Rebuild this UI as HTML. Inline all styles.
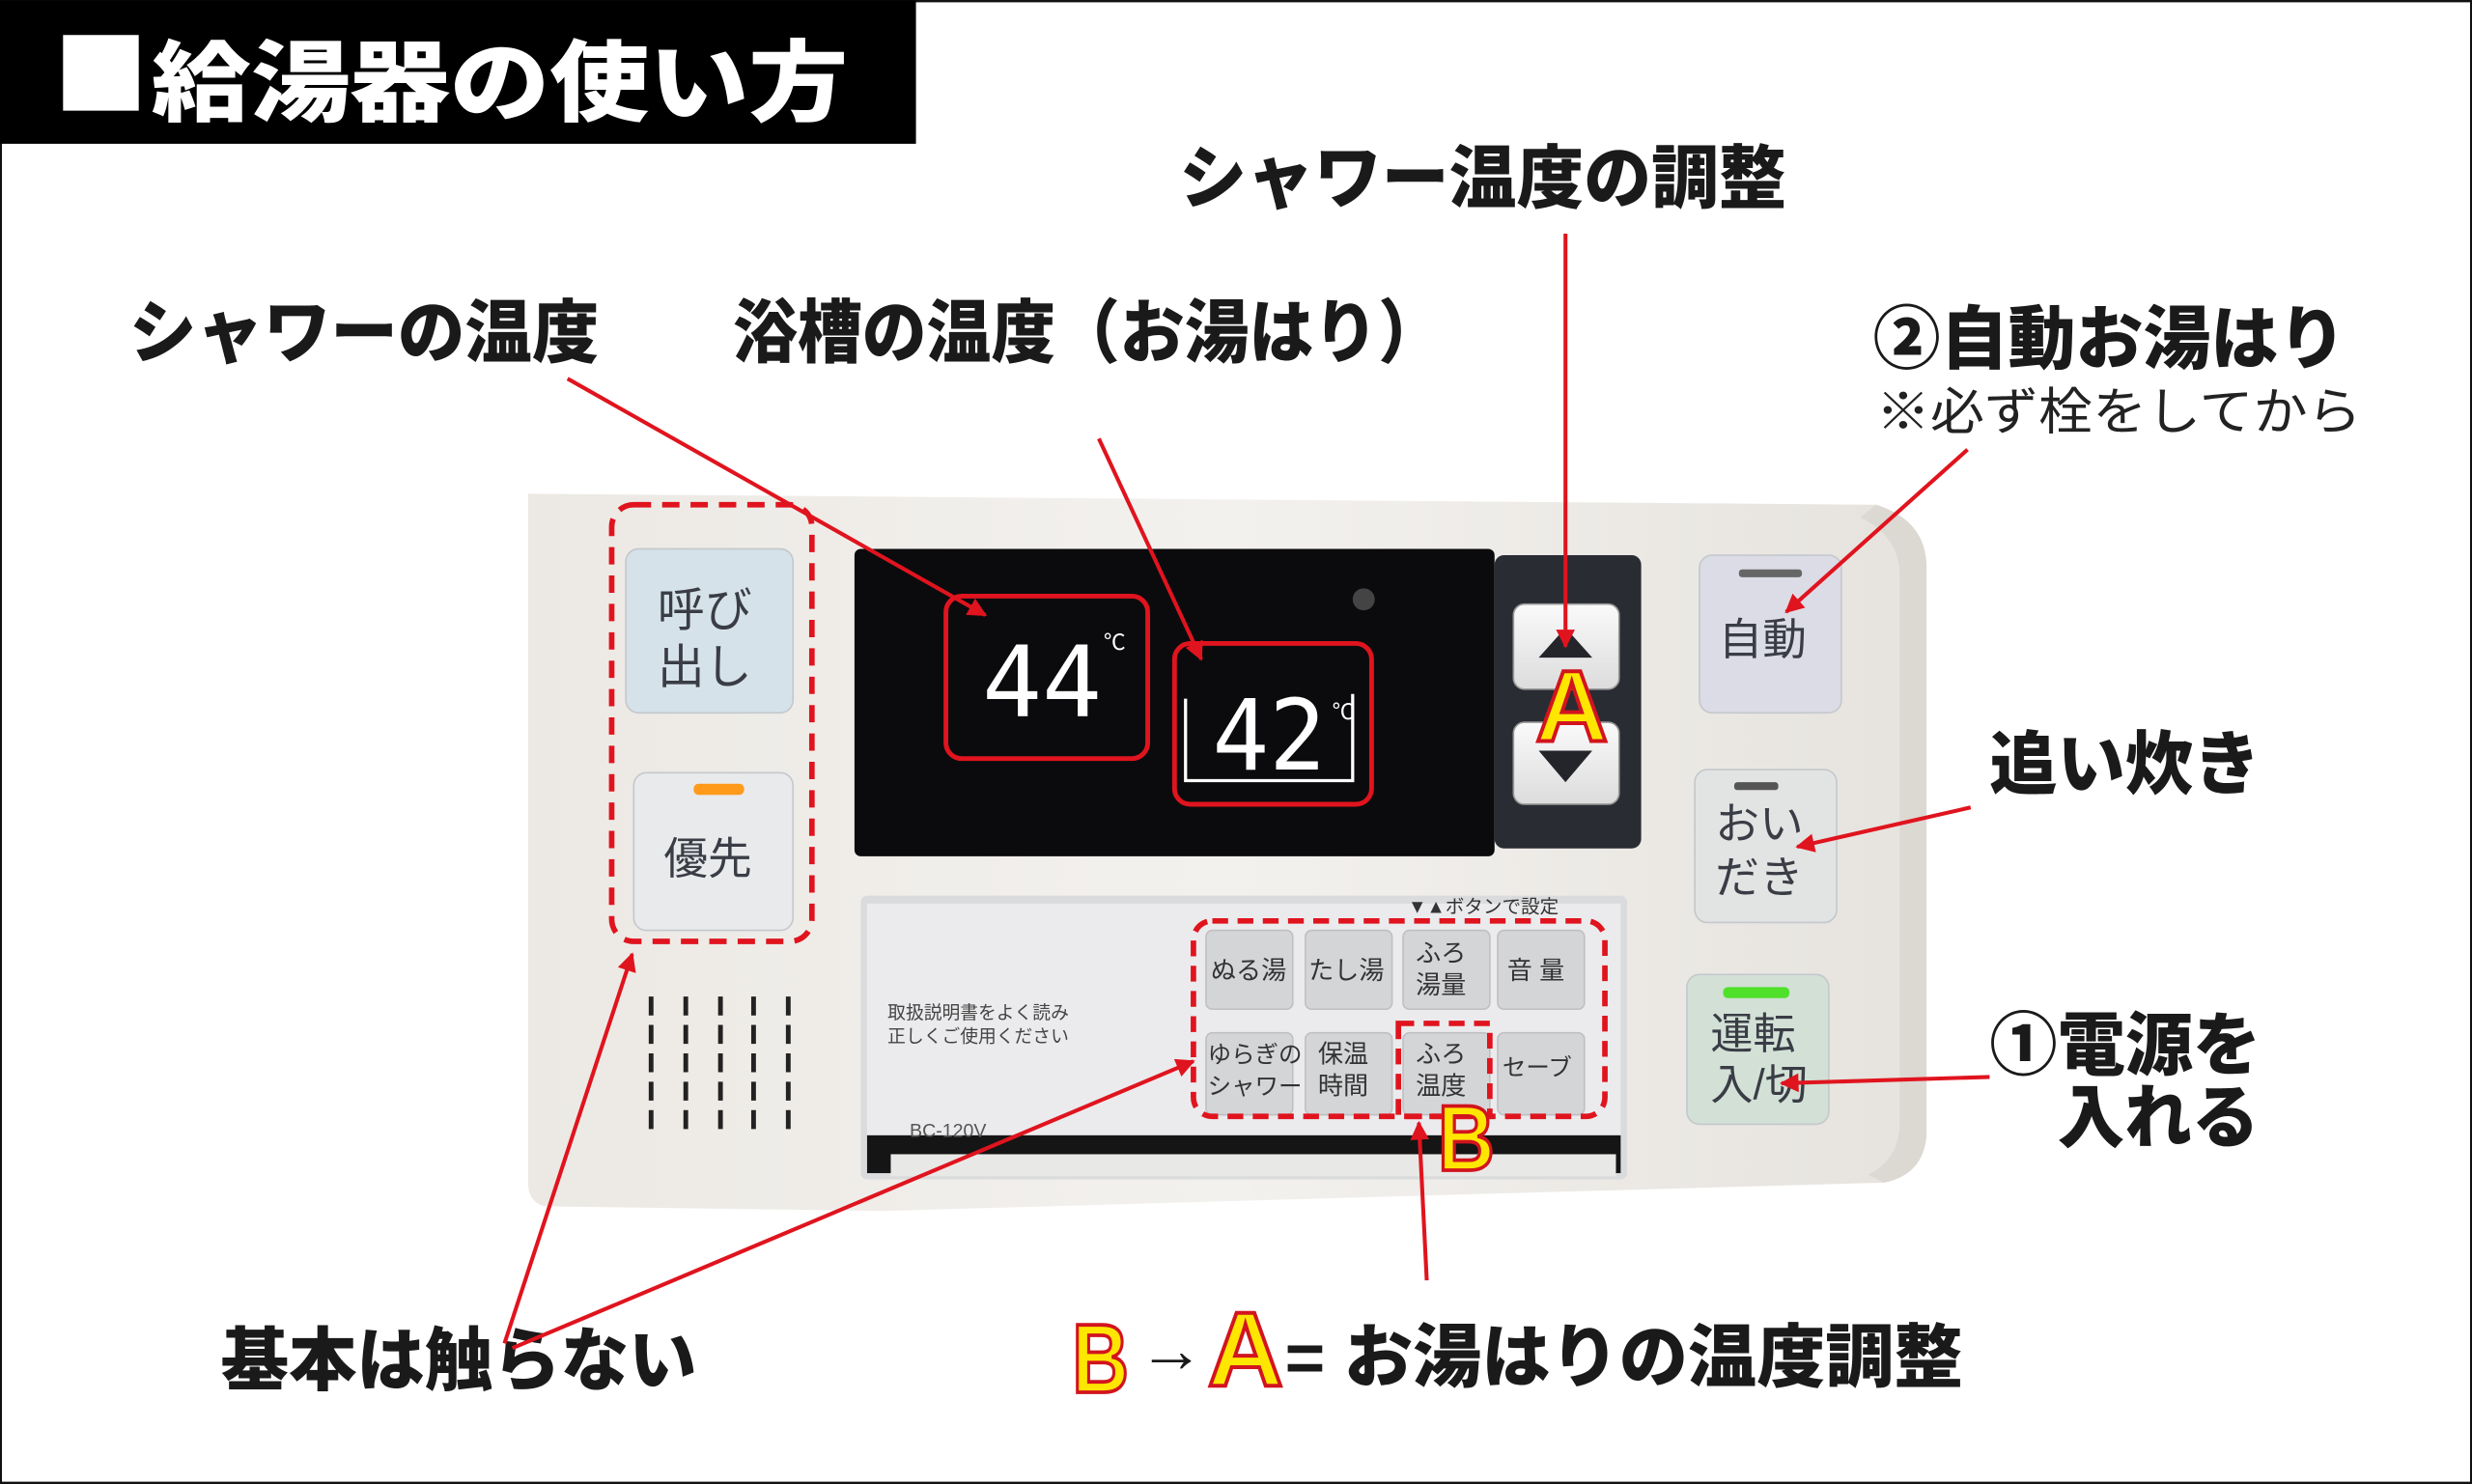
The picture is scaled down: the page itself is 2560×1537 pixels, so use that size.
<!DOCTYPE html>
<html><head><meta charset="utf-8"><style>
html,body{margin:0;padding:0;background:#fff}
svg{display:block}
text{font-family:"Liberation Sans","Noto Sans CJK JP",sans-serif}
.b{font-weight:900;fill:#1a1a1a}
.k{font-weight:400;fill:#3a3d45}
.ab{font-family:"Liberation Sans",sans-serif;font-weight:700;fill:#ffe600;stroke:#d2141e;stroke-width:1.5}
</style></head><body>
<svg width="2560" height="1537" viewBox="0 0 1568 941" xmlns="http://www.w3.org/2000/svg">
<defs>
<marker id="ah" viewBox="0 0 10 10" refX="9" refY="5" markerWidth="14" markerHeight="12" orient="auto-start-reverse" markerUnits="userSpaceOnUse">
<path d="M0,0 L10,5 L0,10 z" fill="#e0141e"/></marker>
<linearGradient id="body" x1="0" y1="0" x2="1" y2="0"><stop offset="0" stop-color="#ece9e4"/><stop offset=".5" stop-color="#f3f1ee"/><stop offset="1" stop-color="#e6e3de"/></linearGradient>
<linearGradient id="btn" x1="0" y1="0" x2="0" y2="1"><stop offset="0" stop-color="#fafafa"/><stop offset="1" stop-color="#dcdcdc"/></linearGradient>
</defs>
<rect x="0.5" y="0.5" width="1567" height="940" fill="#fff" stroke="#111" stroke-width="1.5"/>
<rect x="0" y="0" width="581" height="91" fill="#000"/>
<rect x="40" y="22" width="48" height="48" fill="#fff"/>
<text x="96" y="72" font-size="56" fill="#fff" font-weight="900" textLength="442" lengthAdjust="spacingAndGlyphs">給湯器の使い方</text>

<path d="M335,313 L1190,320 Q1222,330 1222,360 L1222,720 Q1220,745 1195,750 L560,768 L345,765 Q335,762 335,750 Z" fill="url(#body)"/>
<path d="M1190,320 Q1222,330 1222,360 L1222,720 Q1220,745 1195,750 L1185,745 Q1205,735 1205,712 L1205,365 Q1205,340 1180,328 Z" fill="#dcd8d2"/>
<rect x="542" y="348" width="406" height="195" rx="4" fill="#0b0b0d"/>
<rect x="948" y="352" width="93" height="186" rx="6" fill="#2a2c33"/>
<rect x="960" y="383" width="67" height="54" rx="7" fill="url(#btn)" stroke="#999" stroke-width="1"/>
<rect x="960" y="458" width="67" height="52" rx="7" fill="url(#btn)" stroke="#999" stroke-width="1"/>
<path d="M993,398 L1010,417 L976,417 Z" fill="#23252b"/>
<path d="M976,476 L1010,476 L993,496 Z" fill="#23252b"/>
<circle cx="865" cy="380" r="7" fill="#444"/>
<text transform="translate(623,454) scale(1,1.35)" font-size="46" fill="#fff" font-weight="400" textLength="76" lengthAdjust="spacingAndGlyphs" style="font-family:'DejaVu Sans Mono',monospace">44</text>
<text x="700" y="412" font-size="14" fill="#fff">℃</text>
<text transform="translate(769,488) scale(1,1.35)" font-size="46" fill="#fff" font-weight="400" textLength="72" lengthAdjust="spacingAndGlyphs" style="font-family:'DejaVu Sans Mono',monospace">42</text>
<text x="845" y="456" font-size="14" fill="#fff">℃</text>
<path d="M752,443 L752,495 L858,495 L858,440" fill="none" stroke="#fff" stroke-width="2"/>
<rect x="600" y="378" width="128" height="103" rx="10" fill="none" stroke="#e0141e" stroke-width="3"/>
<rect x="745" y="408" width="125" height="102" rx="10" fill="none" stroke="#e0141e" stroke-width="3"/>

<rect x="397" y="348" width="106" height="104" rx="8" fill="#d6e2ea" stroke="#c4c8cc"/>
<text x="417" y="397" font-size="30" class="k">呼び</text>
<text x="417" y="433" font-size="30" class="k">出し</text>
<rect x="402" y="490" width="101" height="100" rx="8" fill="#e8eaec" stroke="#c4c8cc"/>
<rect x="440" y="497" width="32" height="7" rx="3" fill="#ff9a1a"/>
<text x="421" y="554" font-size="28" class="k">優先</text>
<rect x="388" y="320" width="127" height="277" rx="14" fill="none" stroke="#e0141e" stroke-width="3.5" stroke-dasharray="11,7"/>
<g stroke="#222" stroke-width="3" stroke-dasharray="12,6">
<line x1="413" y1="632" x2="413" y2="722"/><line x1="435" y1="632" x2="435" y2="722"/><line x1="457" y1="632" x2="457" y2="722"/><line x1="478" y1="632" x2="478" y2="722"/><line x1="500" y1="632" x2="500" y2="722"/></g>

<rect x="546" y="568" width="486" height="180" rx="4" fill="#dadbdc"/>
<rect x="550" y="573" width="478" height="150" fill="#ebebed"/>
<rect x="550" y="720" width="478" height="24" fill="#151515"/>
<rect x="565" y="732" width="460" height="14" fill="#e8e8e6"/>
<text x="563" y="646" font-size="11.5" fill="#444">取扱説明書をよく読み</text>
<text x="563" y="661" font-size="11.5" fill="#444">正しくご使用ください</text>
<text x="577" y="721" font-size="12" fill="#555">BC-120V</text>
<text x="893" y="579" font-size="12" fill="#333">▼▲ボタンで設定</text>
<g fill="#d4d5d7" stroke="#c0c0c2">
<rect x="765" y="590" width="55" height="50" rx="4"/><rect x="828" y="590" width="55" height="50" rx="4"/>
<rect x="890" y="590" width="55" height="50" rx="4"/><rect x="950" y="590" width="55" height="50" rx="4"/>
<rect x="765" y="655" width="55" height="52" rx="4"/><rect x="828" y="655" width="55" height="52" rx="4"/>
<rect x="890" y="655" width="55" height="52" rx="4"/><rect x="950" y="655" width="55" height="52" rx="4"/></g>
<g font-size="16" fill="#333">
<text x="768" y="621">ぬる湯</text><text x="830" y="621">たし湯</text>
<text x="898" y="610">ふろ</text><text x="898" y="630">湯量</text><text x="956" y="621">音 量</text>
<text x="766" y="674" font-size="15">ゆらぎの</text><text x="766" y="694" font-size="15">シャワー</text>
<text x="836" y="674">保温</text><text x="836" y="694">時間</text>
<text x="898" y="674">ふろ</text><text x="898" y="694">温度</text><text x="953" y="682" font-size="15">セーブ</text></g>
<g fill="none" stroke="#e0141e" stroke-width="3.5" stroke-dasharray="10,6">
<rect x="757" y="584" width="261" height="124" rx="12"/>
<rect x="887" y="649" width="58" height="59"/>
</g>

<rect x="1078" y="352" width="90" height="100" rx="8" fill="#dcdce6" stroke="#c4c8cc"/>
<rect x="1103" y="361" width="40" height="5" rx="2" fill="#666"/>
<text x="1090" y="415" font-size="28" class="k">自動</text>
<rect x="1075" y="488" width="90" height="97" rx="8" fill="#e2e3e3" stroke="#c4c8cc"/>
<rect x="1100" y="496" width="28" height="5" rx="2" fill="#555"/>
<text x="1088" y="532" font-size="28" class="k">おい</text>
<text x="1088" y="566" font-size="28" class="k">だき</text>
<rect x="1070" y="618" width="90" height="95" rx="8" fill="#d2e0d6" stroke="#c4c8cc"/>
<rect x="1093" y="626" width="42" height="7" rx="3" fill="#4fe02a"/>
<text x="1085" y="665" font-size="27" class="k">運転</text>
<text x="1085" y="697" font-size="27" class="k">入/切</text>

<text class="ab" transform="translate(974,470) scale(1,1.6)" font-size="40" textLength="46" lengthAdjust="spacingAndGlyphs">A</text>
<text class="ab" transform="translate(912,742) scale(1,1.55)" font-size="38" textLength="36" lengthAdjust="spacingAndGlyphs">B</text>

<text x="748" y="128" font-size="44" class="b" textLength="385" lengthAdjust="spacingAndGlyphs">シャワー温度の調整</text>
<text x="82" y="226" font-size="44" class="b" textLength="298" lengthAdjust="spacingAndGlyphs">シャワーの温度</text>
<text x="465" y="226" font-size="44" class="b" textLength="450" lengthAdjust="spacingAndGlyphs">浴槽の温度（お湯はり）</text>
<text x="1188" y="230" font-size="44" class="b" textLength="300" lengthAdjust="spacingAndGlyphs">②自動お湯はり</text>
<text x="1190" y="272" font-size="32" fill="#222" textLength="308" lengthAdjust="spacingAndGlyphs">※必ず栓をしてから</text>
<text x="1262" y="500" font-size="44" class="b" textLength="172" lengthAdjust="spacingAndGlyphs">追い炊き</text>
<text x="1262" y="678" font-size="44" class="b" textLength="172" lengthAdjust="spacingAndGlyphs">①電源を</text>
<text x="1305" y="724" font-size="44" class="b" textLength="128" lengthAdjust="spacingAndGlyphs">入れる</text>
<text x="140" y="878" font-size="44" class="b" textLength="302" lengthAdjust="spacingAndGlyphs">基本は触らない</text>
<text class="ab" transform="translate(680,883) scale(1,1.55)" font-size="40" textLength="36" lengthAdjust="spacingAndGlyphs">B</text>
<text x="722" y="870" font-size="40" class="b" textLength="42" lengthAdjust="spacingAndGlyphs">→</text>
<text class="ab" transform="translate(766,879) scale(1,1.6)" font-size="42" textLength="48" lengthAdjust="spacingAndGlyphs">A</text>
<text x="815" y="876" font-size="44" class="b" textLength="430" lengthAdjust="spacingAndGlyphs">= お湯はりの温度調整</text>

<g stroke="#e0141e" stroke-width="2.5" fill="none" marker-end="url(#ah)">
<line x1="360" y1="240" x2="625" y2="390"/>
<line x1="697" y1="278" x2="762" y2="418"/>
<line x1="993" y1="148" x2="993" y2="410"/>
<line x1="1248" y1="285" x2="1133" y2="388"/>
<line x1="1250" y1="512" x2="1140" y2="537"/>
<line x1="1262" y1="683" x2="1130" y2="687"/>
<line x1="320" y1="852" x2="401" y2="605"/>
<line x1="325" y1="855" x2="757" y2="673"/>
<line x1="905" y1="812" x2="900" y2="712"/>
</g>
</svg>
</body></html>
